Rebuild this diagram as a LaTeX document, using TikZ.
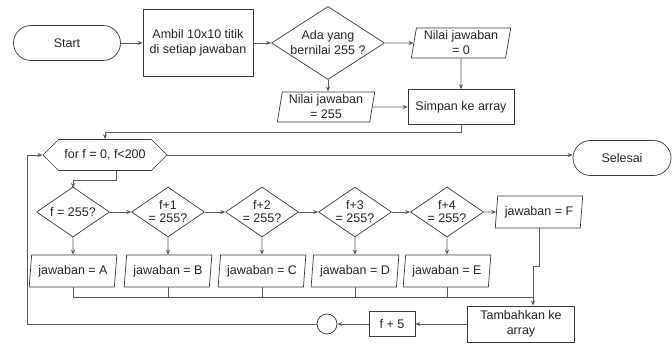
\documentclass[tikz,border=0pt]{standalone}
\usepackage{fontspec}
\setmainfont{Liberation Sans}
\usepackage{tikz}
\usetikzlibrary{arrows.meta, positioning, shapes.geometric, shapes.misc, shapes.symbols}
\definecolor{flowLine}{HTML}{5A5A5A}
\definecolor{flowEdge}{HTML}{3A3A3A}
\definecolor{flowText}{HTML}{262626}

\begin{document}
\begin{tikzpicture}[
  x=1pt, y=-1pt,
  >={Stealth[length=5pt, width=4pt]},
  font=\fontsize{12.5}{15}\selectfont,
  flow/.style={->, line width=0.7pt, draw=flowLine},
  connector/.style={line width=0.7pt, draw=flowLine},
  basebox/.style={draw=flowEdge, line width=0.7pt, fill=white, text=flowText, align=center, inner sep=0pt},
  termbox/.style={basebox, rounded rectangle, minimum width=107pt, minimum height=35pt},
  procbox/.style={basebox, rectangle, minimum width=106pt, minimum height=35pt},
  iobox/.style={basebox, trapezium, trapezium left angle=80, trapezium right angle=100,
    trapezium stretches=true, minimum width=88pt, minimum height=32pt},
  testbox/.style={basebox, diamond, aspect=1.46, inner sep=-2pt, minimum width=73pt, minimum height=50pt,
    font=\fontsize{12.5}{13}\selectfont},
  loopbox/.style={basebox, signal, signal to=east and west, signal pointer angle=90,
    minimum width=124pt, minimum height=31pt}
]

  \useasboundingbox (0,0) rectangle (672,344);

  % upper part: reading the answer sheet
  \node[termbox] (start) at (67,43) {Start};
  \node[procbox, minimum width=110pt, minimum height=67pt] (takeGrid) at (198,43)
    {Ambil 10x10 titik\\di setiap jawaban};
  \node[basebox, diamond, aspect=1.55, inner sep=-2pt, minimum width=113pt, minimum height=73pt] (anyFull) at (328,43)
    {Ada yang\\bernilai 255 ?};
  \node[iobox, minimum width=100pt, minimum height=30pt] (valZero) at (461,43) {Nilai jawaban\\= 0};
  \node[iobox, minimum width=98pt, minimum height=30pt] (valFull) at (326,107) {Nilai jawaban\\= 255};
  \node[procbox] (saveArr) at (461,107) {Simpan ke array};

  \draw[flow] (start.east) -- (takeGrid.west);
  \draw[flow] (takeGrid.east) -- (anyFull.west);
  \draw[flow] (anyFull.east) -- (valZero.west);
  \draw[flow] (anyFull.south) -- (anyFull.south |- valFull.north);
  \draw[flow] (valZero.south) -- (saveArr.north);
  \draw[flow] (valFull.east) -- (saveArr.west);

  % loop over the answers
  \node[loopbox] (forLoop) at (105,155) {for f = 0, f<200};
  \node[termbox, minimum width=98pt] (finish) at (622,158) {Selesai};

  \coordinate (afterSave) at (461,132);
  \coordinate (afterLoop) at (116,180);
  \draw[flow] (saveArr.south) -- (afterSave) -| (forLoop.north);
  \draw[flow] (forLoop.east) -- (forLoop.east -| finish.west);
  \draw[flow] (forLoop.south -| afterLoop) -- (afterLoop) -| (73,188);

  \node[testbox] (testA) at (73,212) {f = 255?};
  \node[testbox] (testB) at (168,212) {f+1\\= 255?};
  \node[testbox] (testC) at (262,212) {f+2\\= 255?};
  \node[testbox] (testD) at (355,212) {f+3\\= 255?};
  \node[testbox] (testE) at (447,212) {f+4\\= 255?};
  \node[iobox] (answerF) at (539,212) {jawaban = F};

  \foreach \n/\x in {A/73,B/168,C/262,D/355,E/447} {
    \node[iobox] (answer\n) at (\x,271) {jawaban = \n};
    \draw[flow] (test\n.south) -- (answer\n.north);
  }

  \draw[flow] (testA.east) -- (testB.west);
  \draw[flow] (testB.east) -- (testC.west);
  \draw[flow] (testC.east) -- (testD.west);
  \draw[flow] (testD.east) -- (testE.west);
  \draw[flow] (testE.east) -- (answerF.west);

  \node[procbox, minimum width=107pt, minimum height=36pt] (addArr) at (521,324) {Tambahkan ke\\array};
  \node[procbox, minimum width=46pt, minimum height=25pt] (stepF) at (392,324) {f + 5};
  \node[basebox, circle, minimum size=20pt] (joint) at (327,324) {};

  \coordinate (busEnd) at (533,297);
  \coordinate (turnF) at (533,266);
  \coordinate (loopBack) at (27,324);

  \draw[connector] (answerA.south) |- (busEnd);
  \foreach \n in {B,C,D,E} {
    \draw[connector] (answer\n.south) -- (answer\n.south |- busEnd);
  }
  \draw[flow] (answerF.south) |- (turnF) -- (turnF |- addArr.north);

  \draw[flow] (addArr.west) -- (stepF.east);
  \draw[flow] (stepF.west) -- (joint.east);
  \draw[flow] (joint.west) -- (loopBack) |- (forLoop.west);

\end{tikzpicture}
\end{document}
